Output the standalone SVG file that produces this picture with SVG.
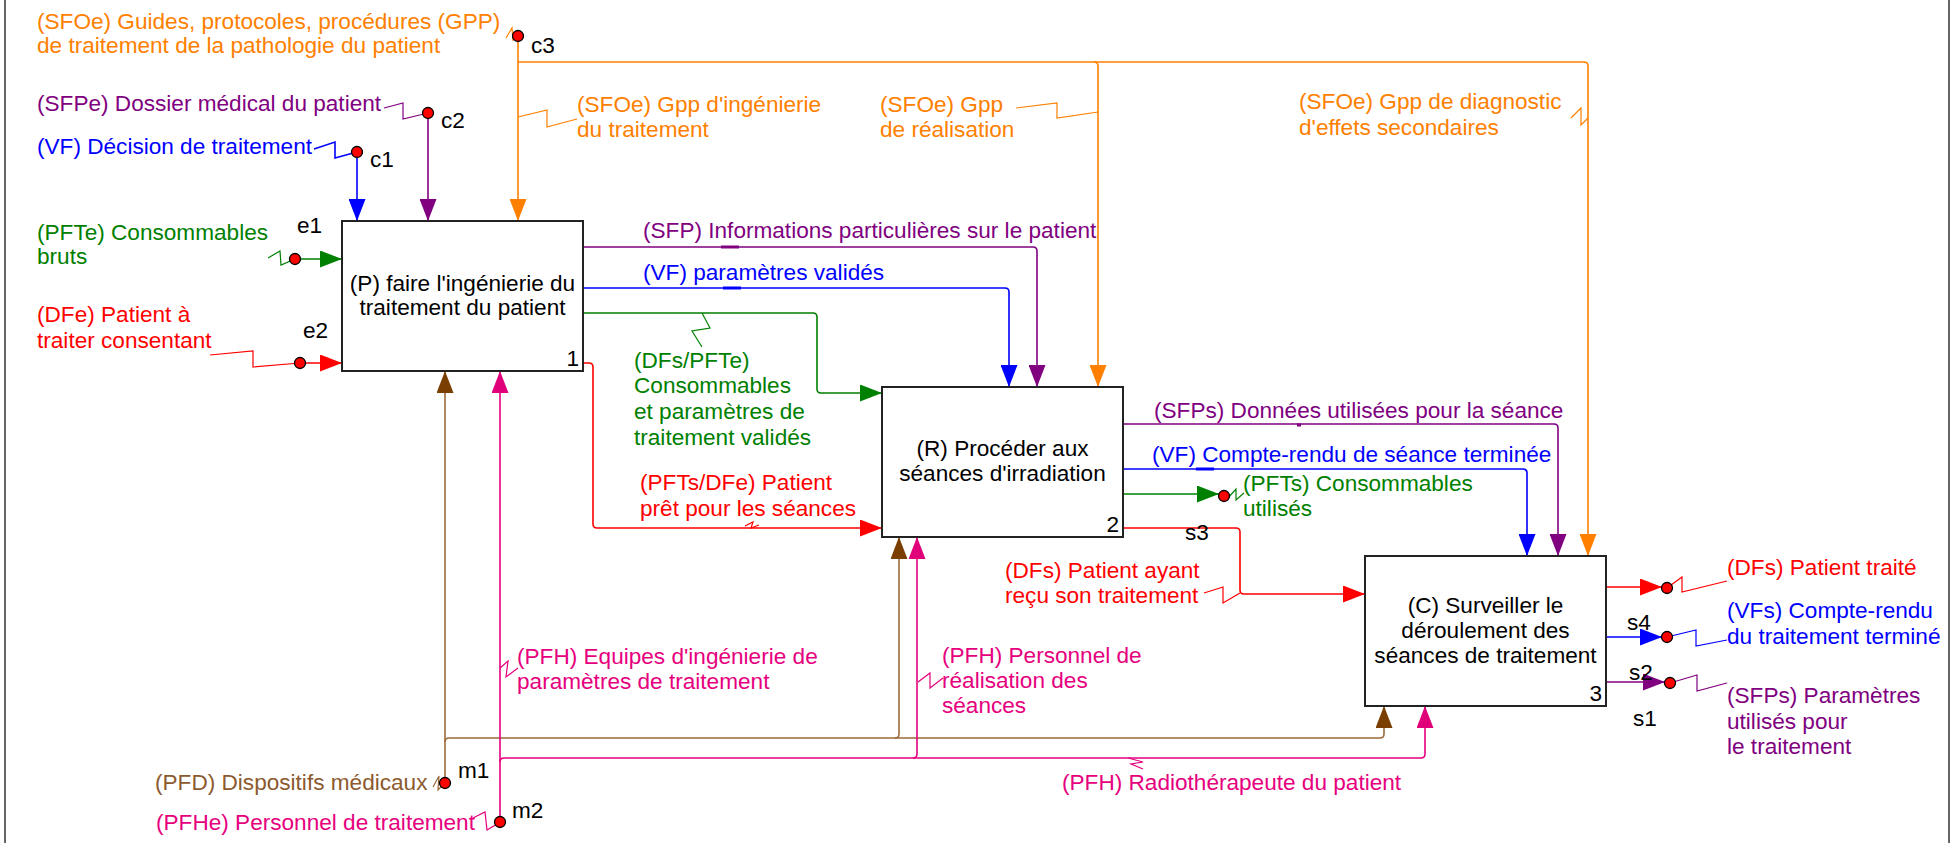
<svg xmlns="http://www.w3.org/2000/svg" width="1957" height="843" viewBox="0 0 1957 843">
<style>
text{font-family:"Liberation Sans",Arial,sans-serif;font-size:22.6px}
.box{fill:#fff;stroke:#222;stroke-width:2}
.ln{fill:none;stroke-width:1.6}
.sq{fill:none;stroke-width:1.2}
.tk{fill:none;stroke-width:3}
.dot{fill:#f00;stroke:#000;stroke-width:1.3}
.or{stroke:#FF8000}.tor{fill:#FF8000}
.pu{stroke:#800080}.tpu{fill:#800080}
.bl{stroke:#0000FF}.tbl{fill:#0000FF}
.gr{stroke:#008000}.tgr{fill:#008000}
.rd{stroke:#FF0000}.trd{fill:#FF0000}
.br{stroke:#9C6A3A}.tbr{fill:#8C5A2E}
.mg{stroke:#E6007E}.tmg{fill:#E6007E}
.bk{fill:#000}
</style>
<defs>
<marker id="aor" markerUnits="userSpaceOnUse" markerWidth="22" markerHeight="17" refX="22" refY="8.5" orient="auto"><path d="M0,0L22,8.5L0,17z" fill="#FF8000"/></marker>
<marker id="apu" markerUnits="userSpaceOnUse" markerWidth="22" markerHeight="17" refX="22" refY="8.5" orient="auto"><path d="M0,0L22,8.5L0,17z" fill="#800080"/></marker>
<marker id="abl" markerUnits="userSpaceOnUse" markerWidth="22" markerHeight="17" refX="22" refY="8.5" orient="auto"><path d="M0,0L22,8.5L0,17z" fill="#0000FF"/></marker>
<marker id="agr" markerUnits="userSpaceOnUse" markerWidth="22" markerHeight="17" refX="22" refY="8.5" orient="auto"><path d="M0,0L22,8.5L0,17z" fill="#008000"/></marker>
<marker id="ard" markerUnits="userSpaceOnUse" markerWidth="22" markerHeight="17" refX="22" refY="8.5" orient="auto"><path d="M0,0L22,8.5L0,17z" fill="#FF0000"/></marker>
<marker id="abr" markerUnits="userSpaceOnUse" markerWidth="22" markerHeight="17" refX="22" refY="8.5" orient="auto"><path d="M0,0L22,8.5L0,17z" fill="#7A3E00"/></marker>
<marker id="amg" markerUnits="userSpaceOnUse" markerWidth="22" markerHeight="17" refX="22" refY="8.5" orient="auto"><path d="M0,0L22,8.5L0,17z" fill="#E0007A"/></marker>
</defs>
<rect width="1957" height="843" fill="#fff"/>
<line x1="5" y1="0" x2="5" y2="843" stroke="#333" stroke-width="1.5"/>
<line x1="1949" y1="0" x2="1949" y2="843" stroke="#333" stroke-width="1.5"/>

<g id="connectors">
 <g id="c3">
  <path class="ln or" d="M518,36V221" marker-end="url(#aor)"/>
  <path class="ln or" d="M518,62H1584Q1588,62 1588,66V556" marker-end="url(#aor)"/>
  <path class="ln or" d="M1094,62Q1098,62 1098,66V387" marker-end="url(#aor)"/>
  <path class="sq or" d="M506,38L512,28L513,40L518,36"/>
  <path class="sq or" d="M518,117L547,110L547,127L577,119"/>
  <path class="sq or" d="M1016,108L1057,103L1057,118L1098,112"/>
  <path class="sq or" d="M1571,118L1581,108L1581,125L1588,118"/>
  <text class="tor" x="37" y="29">(SFOe) Guides, protocoles, procédures (GPP)</text>
  <text class="tor" x="37" y="53">de traitement de la pathologie du patient</text>
  <text class="tor" x="577" y="112">(SFOe) Gpp d'ingénierie</text>
  <text class="tor" x="577" y="137">du traitement</text>
  <text class="tor" x="880" y="112">(SFOe) Gpp</text>
  <text class="tor" x="880" y="137">de réalisation</text>
  <text class="tor" x="1299" y="109">(SFOe) Gpp de diagnostic</text>
  <text class="tor" x="1299" y="135">d'effets secondaires</text>
  <circle class="dot" cx="518" cy="36" r="5.5"/>
  <text class="bk" x="531" y="53">c3</text>
 </g>
 <g id="c2">
  <path class="ln pu" d="M428,113V221" marker-end="url(#apu)"/>
  <path class="sq pu" d="M384,108L403,103L403,119L428,113"/>
  <text class="tpu" x="37" y="111">(SFPe) Dossier médical du patient</text>
  <circle class="dot" cx="428" cy="113" r="5.5"/>
  <text class="bk" x="441" y="128">c2</text>
 </g>
 <g id="c1">
  <path class="ln bl" d="M314,149L335,142L335,158L357,152"/>
  <path class="ln bl" d="M357,152V221" marker-end="url(#abl)"/>
  <text class="tbl" x="37" y="154">(VF) Décision de traitement</text>
  <circle class="dot" cx="357" cy="152" r="5.5"/>
  <text class="bk" x="370" y="167">c1</text>
 </g>
 <g id="e1">
  <path class="ln gr" d="M295,259H342" marker-end="url(#agr)"/>
  <path class="sq gr" d="M268,258L280,251L281,265L295,259"/>
  <text class="tgr" x="37" y="240">(PFTe) Consommables</text>
  <text class="tgr" x="37" y="264">bruts</text>
  <circle class="dot" cx="295" cy="259" r="5.5"/>
  <text class="bk" x="297" y="233">e1</text>
 </g>
 <g id="e2">
  <path class="ln rd" d="M300,363H342" marker-end="url(#ard)"/>
  <path class="sq rd" d="M210,355L253,351L253,367L300,363"/>
  <text class="trd" x="37" y="322">(DFe) Patient à</text>
  <text class="trd" x="37" y="348">traiter consentant</text>
  <circle class="dot" cx="300" cy="363" r="5.5"/>
  <text class="bk" x="303" y="338">e2</text>
 </g>
 <g id="sfp-info">
  <path class="ln pu" d="M583,247H1033Q1037,247 1037,251V387" marker-end="url(#apu)"/>
  <path class="tk pu" d="M721,247H739"/>
  <text class="tpu" x="643" y="238">(SFP) Informations particulières sur le patient</text>
 </g>
 <g id="vf-param">
  <path class="ln bl" d="M583,288H1005Q1009,288 1009,292V387" marker-end="url(#abl)"/>
  <path class="tk bl" d="M723,288H741"/>
  <text class="tbl" x="643" y="280">(VF) paramètres validés</text>
 </g>
 <g id="dfs-pfte">
  <path class="ln gr" d="M583,313H813Q817,313 817,317V389Q817,393 821,393H882" marker-end="url(#agr)"/>
  <path class="sq gr" d="M702,313L710,328L692,331L702,347"/>
  <text class="tgr" x="634" y="368">(DFs/PFTe)</text>
  <text class="tgr" x="634" y="393">Consommables</text>
  <text class="tgr" x="634" y="419">et paramètres de</text>
  <text class="tgr" x="634" y="445">traitement validés</text>
 </g>
 <g id="pfts-dfe">
  <path class="ln rd" d="M583,363H589Q593,363 593,367V524Q593,528 597,528H882" marker-end="url(#ard)"/>
  <path class="sq rd" d="M745,526L753,522L751,528L759,525"/>
  <text class="trd" x="640" y="490">(PFTs/DFe) Patient</text>
  <text class="trd" x="640" y="516">prêt pour les séances</text>
 </g>
 <g id="sfps-donnees">
  <path class="ln pu" d="M1123,424H1554Q1558,424 1558,428V556" marker-end="url(#apu)"/>
  <path class="tk pu" d="M1297,425H1301"/>
  <text class="tpu" x="1154" y="418">(SFPs) Données utilisées pour la séance</text>
 </g>
 <g id="vf-compte">
  <path class="ln bl" d="M1123,469H1523Q1527,469 1527,473V556" marker-end="url(#abl)"/>
  <path class="tk bl" d="M1196,469H1214"/>
  <text class="tbl" x="1152" y="462">(VF) Compte-rendu de séance terminée</text>
 </g>
 <g id="pfts-out">
  <path class="ln gr" d="M1123,494H1219" marker-end="url(#agr)"/>
  <path class="sq gr" d="M1228,498L1236,489L1236,500L1244,493"/>
  <circle class="dot" cx="1224" cy="496" r="5.5"/>
  <text class="tgr" x="1243" y="491">(PFTs) Consommables</text>
  <text class="tgr" x="1243" y="516">utilisés</text>
 </g>
 <g id="s3">
  <path class="ln rd" d="M1123,528H1236Q1240,528 1240,532V590Q1240,594 1244,594H1365" marker-end="url(#ard)"/>
  <path class="sq rd" d="M1204,593L1223,587L1223,603L1240,593"/>
  <text class="trd" x="1005" y="578">(DFs) Patient ayant</text>
  <text class="trd" x="1005" y="603">reçu son traitement</text>
  <text class="bk" x="1185" y="540">s3</text>
 </g>
 <g id="dfs-out">
  <path class="ln rd" d="M1606,587H1662" marker-end="url(#ard)"/>
  <path class="sq rd" d="M1667,588L1682,577L1682,592L1727,581"/>
  <circle class="dot" cx="1667" cy="588" r="5.5"/>
  <text class="trd" x="1727" y="575">(DFs) Patient traité</text>
 </g>
 <g id="vfs-out">
  <path class="ln bl" d="M1606,637H1662" marker-end="url(#abl)"/>
  <path class="sq bl" d="M1667,637L1696,630L1696,646L1727,640"/>
  <circle class="dot" cx="1667" cy="637" r="5.5"/>
  <text class="tbl" x="1727" y="618">(VFs) Compte-rendu</text>
  <text class="tbl" x="1727" y="644">du traitement terminé</text>
  <text class="bk" x="1627" y="630">s4</text>
 </g>
 <g id="sfps-out">
  <path class="ln pu" d="M1606,682H1665" marker-end="url(#apu)"/>
  <path class="sq pu" d="M1670,683L1697,675L1697,691L1727,683"/>
  <circle class="dot" cx="1670" cy="683" r="5.5"/>
  <text class="tpu" x="1727" y="703">(SFPs) Paramètres</text>
  <text class="tpu" x="1727" y="729">utilisés pour</text>
  <text class="tpu" x="1727" y="754">le traitement</text>
  <text class="bk" x="1629" y="680">s2</text>
  <text class="bk" x="1633" y="726">s1</text>
 </g>
 <g id="m1">
  <path class="ln br" d="M445,783V371" marker-end="url(#abr)"/>
  <path class="ln br" d="M445,742Q445,738 449,738H1380Q1384,738 1384,734V706" marker-end="url(#abr)"/>
  <path class="ln br" d="M895,738Q899,738 899,734V537" marker-end="url(#abr)"/>
  <path class="sq br" d="M433,787L439,776L438,790L445,783"/>
  <circle class="dot" cx="445" cy="783" r="5.5"/>
  <text class="tbr" x="155" y="790">(PFD) Dispositifs médicaux</text>
  <text class="bk" x="458" y="778">m1</text>
 </g>
 <g id="m2">
  <path class="ln mg" d="M500,822V371" marker-end="url(#amg)"/>
  <path class="ln mg" d="M500,762Q500,758 504,758H1421Q1425,758 1425,754V706" marker-end="url(#amg)"/>
  <path class="ln mg" d="M913,758Q917,758 917,754V537" marker-end="url(#amg)"/>
  <path class="sq mg" d="M500,668L508,661L506,677L518,668"/>
  <path class="sq mg" d="M918,682L930,673L930,688L943,678"/>
  <path class="sq mg" d="M1128,758L1143,762L1131,764L1143,769"/>
  <path class="sq mg" d="M473,818L485,812L487,830L497,824"/>
  <circle class="dot" cx="500" cy="822" r="5.5"/>
  <text class="tmg" x="156" y="830">(PFHe) Personnel de traitement</text>
  <text class="bk" x="512" y="818">m2</text>
  <text class="tmg" x="517" y="664">(PFH) Equipes d'ingénierie de</text>
  <text class="tmg" x="517" y="689">paramètres de traitement</text>
  <text class="tmg" x="942" y="663">(PFH) Personnel de</text>
  <text class="tmg" x="942" y="688">réalisation des</text>
  <text class="tmg" x="942" y="713">séances</text>
  <text class="tmg" x="1062" y="790">(PFH) Radiothérapeute du patient</text>
 </g>
</g>

<g id="box1">
 <rect class="box" x="342" y="221" width="241" height="150"/>
 <text class="bk" x="462.5" y="291" text-anchor="middle">(P) faire l'ingénierie du</text>
 <text class="bk" x="462.5" y="315" text-anchor="middle">traitement du patient</text>
 <text class="bk" x="579" y="366" text-anchor="end">1</text>
</g>
<g id="box2">
 <rect class="box" x="882" y="387" width="241" height="150"/>
 <text class="bk" x="1002.5" y="456" text-anchor="middle">(R) Procéder aux</text>
 <text class="bk" x="1002.5" y="481" text-anchor="middle">séances d'irradiation</text>
 <text class="bk" x="1119" y="532" text-anchor="end">2</text>
</g>
<g id="box3">
 <rect class="box" x="1365" y="556" width="241" height="150"/>
 <text class="bk" x="1485.5" y="613" text-anchor="middle">(C) Surveiller le</text>
 <text class="bk" x="1485.5" y="638" text-anchor="middle">déroulement des</text>
 <text class="bk" x="1485.5" y="663" text-anchor="middle">séances de traitement</text>
 <text class="bk" x="1602" y="701" text-anchor="end">3</text>
</g>
</svg>
